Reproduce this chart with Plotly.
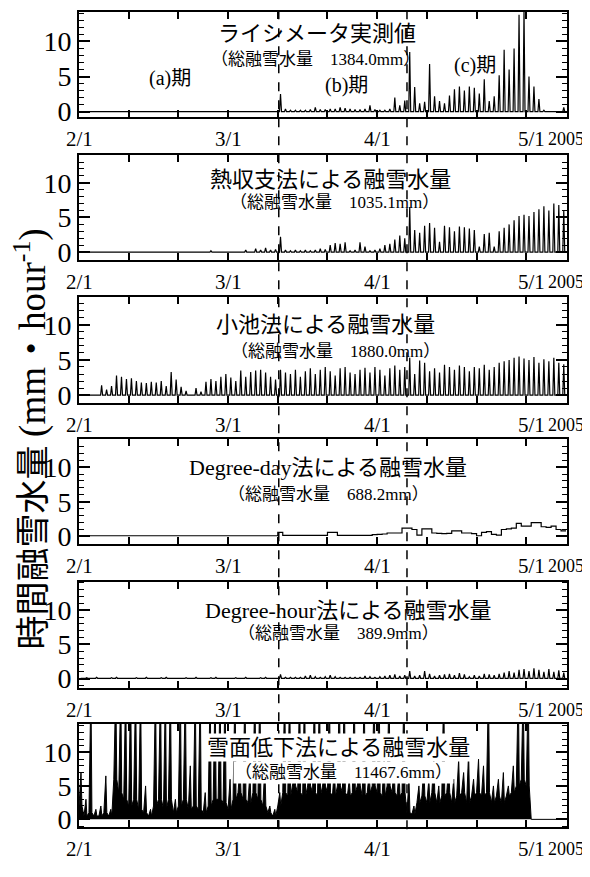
import plotly.graph_objects as go

# ---------------- data (day index from 2/1, daily peak values, mm/hour) ----------------
days = list(range(98))

lys_peak = [0.0] * 40 + [
    2.5, 0.4, 0.2, 0.2, 0.2, 0.2, 0.3, 0.6, 0.3, 0.3,
    0.4, 0.4, 0.6, 0.5, 0.4, 0.3, 0.3, 0.4, 0.9, 0.3,
    0.2, 0.2, 0.4, 2.0, 0.9, 1.6, 8.5, 3.5, 1.2, 1.4,
    6.8, 2.2, 1.5, 1.2, 2.3, 3.2, 3.6, 3.0, 3.6, 3.4,
    2.6, 4.6, 1.5, 2.2, 5.2, 8.8, 6.0, 9.0, 13.8, 14.5,
    5.0, 3.6, 1.8, 0.2, 0.1, 0.1, 0.1, 0.6]

heat_peak = [0.0] * 26 + [0.2] + [0.0] * 6 + [0.3, 0.0] + [
    0.5, 0.3, 0.6, 0.3, 0.4, 2.2, 0.3, 0.2, 0.3, 0.2,
    0.3, 0.2, 0.3, 0.5, 0.4, 1.0, 1.3, 1.2, 1.4, 0.2,
    0.3, 1.4, 0.8, 0.2, 0.3, 0.5, 1.0, 1.2, 1.8, 2.4,
    2.0, 6.5, 3.2, 2.8, 3.8, 4.2, 3.5, 1.5, 3.8, 3.6,
    3.0, 3.7, 3.6, 3.4, 3.2, 0.8, 2.6, 2.8, 0.8, 3.0,
    3.5, 4.0, 4.6, 5.2, 5.4, 5.2, 5.8, 6.2, 6.6, 6.0,
    7.0, 6.8, 6.0]

koike_peak = [
    0.0, 0.0, 0.0, 0.0, 1.4, 0.8, 1.3, 2.8, 2.6, 2.3,
    2.4, 2.0, 1.8, 1.7, 1.9, 1.8, 2.0, 1.3, 3.3, 2.2,
    1.2, 0.6, 0.0, 1.0, 0.5, 1.9, 2.3, 2.0, 2.6, 3.0,
    2.5, 2.0, 3.5, 2.6, 3.3, 3.5, 3.6, 3.2, 2.6, 2.2,
    3.6, 3.2, 3.0, 3.6, 2.6, 3.4, 3.8, 3.0, 3.6, 4.0,
    3.4, 2.8, 3.8, 4.0, 3.2, 3.0, 3.6, 3.9, 3.2, 4.0,
    3.6, 2.8, 3.8, 4.2, 3.6, 4.0, 5.3, 3.0, 4.9, 4.6,
    3.4, 3.8, 3.2, 4.3, 4.0, 3.6, 4.2, 4.0, 3.4, 4.0,
    3.8, 4.3, 3.6, 4.0, 4.6, 4.8, 5.0, 5.3, 5.5, 5.2,
    5.0, 5.4, 4.6, 5.1, 4.8, 5.3, 4.6, 4.4]

dd_value = [0.1] * 40 + [0.6] + [0.15] * 9 + [0.6, 0.6] + [0.15] * 7 + [
    0.25, 0.3, 0.35, 0.5, 0.5, 0.5, 1.2, 1.2, 1.0, 0.2,
    1.1, 1.1, 0.5, 0.45, 0.4, 0.45, 0.8, 0.8, 0.5, 0.5,
    0.4, 0.1, 0.6, 0.7, 0.3, 0.2, 1.0, 1.1, 1.2, 1.9,
    1.5, 1.5, 2.0, 2.0, 1.4, 1.3, 1.5, 1.0, 0.8]

dh_peak = [0.1, 0.15, 0.1, 0.2, 0.1, 0.1, 0.15, 0.2, 0.1, 0.1] * 4 + [
    0.6, 0.2, 0.2, 0.2, 0.2, 0.4, 0.5, 0.3, 0.2, 0.3,
    0.5, 0.3, 0.2, 0.2, 0.2, 0.2, 0.2, 0.4, 0.3, 0.2,
    0.3, 0.4, 0.5, 0.6, 0.4, 0.5, 1.1, 0.4, 0.5, 1.1,
    0.7, 0.4, 0.5, 0.6, 0.7, 0.5, 0.8, 0.6, 0.3, 0.5,
    0.4, 0.7, 0.6, 0.5, 0.7, 0.9, 1.1, 0.9, 1.3, 1.4,
    1.1, 1.5, 1.3, 1.0, 1.4, 1.0, 1.2, 0.9]

sfl_peak = [
    7, 3, 20, 1.5, 2, 6.5, 1.5, 20, 20, 20,
    20, 20, 20, 5, 1.5, 20, 20, 20, 20, 3,
    20, 20, 8, 20, 20, 4, 20, 20, 20, 20,
    6, 20, 8, 20, 7, 20, 20, 8, 2, 1.5,
    4, 20, 20, 7, 20, 20, 8, 20, 20, 7,
    20, 8, 20, 20, 6, 20, 8, 20, 7, 20,
    20, 9, 20, 8, 7, 20, 6, 2, 5, 8,
    6, 9, 5, 20, 8, 6, 9, 7, 10, 6,
    9, 8, 20, 5, 6, 7, 5, 8, 20, 20,
    20, 0, 0, 0, 0, 0, 0, 0]
sfl_level = [
    2, 0.5, 1, 0.5, 0.5, 1, 0.5, 6, 4, 3,
    2, 3, 1.5, 1, 0.5, 2, 3, 1.5, 3, 1,
    2, 3, 1.5, 2, 1.5, 1, 2, 3, 3, 2.5,
    1.5, 3, 4, 3, 2.5, 4, 3, 2, 1, 0.5,
    2, 4, 3.5, 5, 4, 3.5, 5, 4, 3.5, 5,
    4, 3.5, 5, 4, 3.5, 4, 5, 3.5, 4, 5,
    4, 3.5, 5, 4, 3.5, 4, 1, 0.8, 2.5, 3.5,
    2.5, 4, 2.5, 3.5, 4, 2.5, 3.5, 4, 2.5, 3.5,
    4, 3.5, 4, 2.5, 3.5, 2.5, 3.5, 4, 5, 6,
    5, 0, 0, 0, 0, 0, 0, 0]

x_tick_days = [0, 10, 20, 30, 40, 50, 60, 70, 80, 90]
x_label_days = [0, 30, 60, 91.0]
x_labels = ["2/1", "3/1", "4/1", "5/1"]
year_label = "2005"
y_ticks = [0, 5, 10]
event_days = [40.2, 66.0]

titles = ["ライシメータ実測値", "熱収支法による融雪水量", "小池法による融雪水量",
          "Degree-day法による融雪水量", "Degree-hour法による融雪水量", "雪面低下法による融雪水量"]
totals = ["1384.0", "1035.1", "1880.0", "688.2", "389.9", "11467.6"]
period_labels = ["(a)期", "(b)期", "(c)期"]
y_title = ("時間融雪水量 <span style='font-size:37px'>(mm・hour"
           "<sup>-1</sup>)</span>")

# ---------------- layout constants (reference pixel positions) ----------------
OFF = 8                      # page body margin of the browser
W, H = 590 - OFF, 877 - 2 * OFF
FONT = "Liberation Serif, 'Noto Sans CJK JP', serif"


def PX(px):
    return (px - OFF) / W


def PY(py):
    return 1 - (py - OFF) / H


x_dom = [PX(79), PX(567)]
x_range = [0, 98.2]
panel_px = [(12, 118), (157, 263), (301, 408), (445, 551), (589, 697), (733, 838)]
y_ranges = [[-0.7, 14.2], [-1.1, 14.0], [-1.1, 13.9], [-1.1, 14.0], [-1.4, 14.2], [-1.2, 14.3]]
title_px = [(317, 34), (330, 182), (325, 329), (328, 473), (348, 618), (338, 757)]
sub_px = [(315, 60), (334, 205), (335, 356), (328, 501), (338, 642), (343, 782)]
period_px = [(170, 79), (346, 87), (475, 66)]


def spike_xy(peaks, base=0.0):
    xs, ys = [], []
    for d, p in zip(days, peaks):
        xs += [d + 0.35, d + 0.55, d + 0.75]
        ys += [base, p, base]
    return xs, ys


fig = go.Figure()
line = dict(color="black", width=1.2)

x1, y1 = spike_xy(lys_peak)
fig.add_trace(go.Scatter(x=x1, y=y1, mode="lines", line=line, xaxis="x", yaxis="y"))
x2, y2 = spike_xy(heat_peak)
fig.add_trace(go.Scatter(x=x2, y=y2, mode="lines", line=line, xaxis="x2", yaxis="y2"))
x3, y3 = spike_xy(koike_peak)
fig.add_trace(go.Scatter(x=x3, y=y3, mode="lines", line=line, xaxis="x3", yaxis="y3"))
fig.add_trace(go.Scatter(x=days + [98], y=dd_value + [dd_value[-1]], mode="lines",
                         line=dict(color="black", width=1.2, shape="hv"), xaxis="x4", yaxis="y4"))
x5, y5 = spike_xy(dh_peak, base=0.05)
fig.add_trace(go.Scatter(x=x5, y=y5, mode="lines", line=line, xaxis="x5", yaxis="y5"))
x6, y6 = [], []
for d, p, lv in zip(days, sfl_peak, sfl_level):
    x6 += [d, d + 0.4, d + 0.6]
    y6 += [lv, p, lv]
fig.add_trace(go.Scatter(x=x6, y=y6, mode="lines", line=dict(color="black", width=1),
                         fill="tozeroy", fillcolor="black", xaxis="x6", yaxis="y6"))

layout = dict(width=W, height=H, autosize=False, showlegend=False,
              margin=dict(l=0, r=0, t=0, b=0), paper_bgcolor="white", plot_bgcolor="white",
              font=dict(family=FONT, color="black"))
annotations = []


def note(**kw):
    base = dict(showarrow=False, xanchor="center", yanchor="middle")
    base.update(kw)
    annotations.append(base)


for i in range(6):
    sfx = "" if i == 0 else str(i + 1)
    top, bot = panel_px[i]
    layout["xaxis" + sfx] = dict(
        domain=x_dom, range=x_range, anchor="y" + sfx, tickvals=x_tick_days, ticks="inside",
        ticklen=7, tickwidth=1.5, tickcolor="black", showticklabels=False, showgrid=False,
        zeroline=False, showline=True, linecolor="black", linewidth=2, mirror="allticks")
    layout["yaxis" + sfx] = dict(
        domain=[PY(bot), PY(top)], range=y_ranges[i], anchor="x" + sfx,
        tickvals=y_ticks, ticks="inside", ticklen=11, tickwidth=1.5, tickcolor="black",
        minor=dict(dtick=1, ticks="inside", ticklen=5, tickwidth=1, tickcolor="black"),
        tickfont=dict(size=28, family=FONT), showgrid=False, zeroline=False, showline=True,
        linecolor="black", linewidth=2, mirror="allticks")
    for d, lab in zip(x_label_days, x_labels):
        note(x=d, y=0, xref="x" + sfx, yref="y" + sfx + " domain", text=lab, yshift=-22,
             font=dict(size=21, family=FONT))
    note(x=PX(586), y=0, xref="paper", yref="y" + sfx + " domain", xanchor="right",
         text=year_label, yshift=-22, font=dict(size=18, family=FONT))
    tx, ty = title_px[i]
    extra = dict(bgcolor="white", borderpad=1) if i == 5 else {}
    note(x=PX(tx), y=PY(ty), xref="paper", yref="paper", text=titles[i],
         font=dict(size=22, family=FONT), **extra)
    sx, sy = sub_px[i]
    note(x=PX(sx), y=PY(sy), xref="paper", yref="paper",
         text="（総融雪水量　" + totals[i] + "mm）", font=dict(size=17, family=FONT), **extra)

for lab, (px, py) in zip(period_labels, period_px):
    note(x=PX(px), y=PY(py), xref="paper", yref="paper", text=lab,
         font=dict(size=20, family=FONT))

note(x=PX(31), y=PY(445), xref="paper", yref="paper", text=y_title, textangle=-90,
     font=dict(size=34, family=FONT))

shapes = []
for d in event_days:
    shapes.append(dict(type="line", xref="x", yref="paper", x0=d, x1=d,
                       y0=PY(840), y1=PY(12),
                       line=dict(color="black", width=1.5, dash="dash"), layer="above"))

layout["annotations"] = annotations
layout["shapes"] = shapes
fig.update_layout(**layout)
fig.write_html("out.html")
